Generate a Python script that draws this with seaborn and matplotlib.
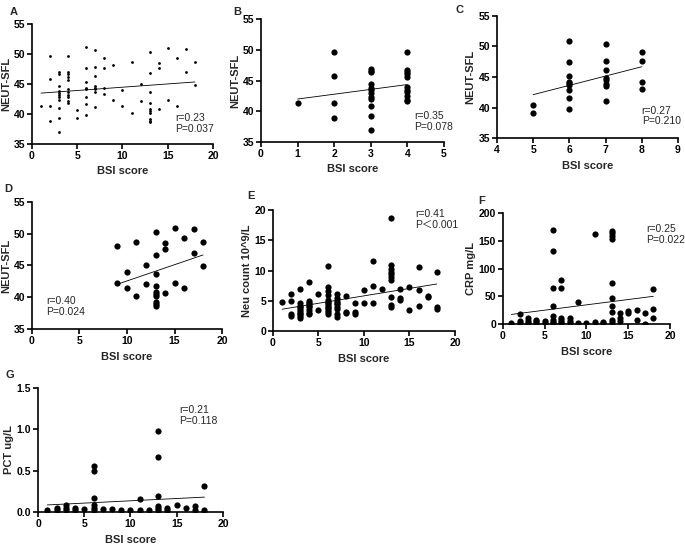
import numpy as np
import matplotlib
matplotlib.use('Agg')
import matplotlib.pyplot as plt
import seaborn as sns

sns.set_style('ticks')
plt.rcParams['font.family'] = ['Liberation Sans', 'DejaVu Sans']

# ---- data ----
# A: all patients, NEUT-SFL vs BSI score
a_x = [1] + [2]*4 + [3]*11 + [4]*11 + [5]*2 + [6]*8 + [7]*8 + [8]*4 + [9]*2 + [10]*2 \
      + [11]*2 + [12]*2 + [13]*10 + [14]*3 + [15]*2 + [16]*2 + [17]*2 + [18]*2
a_y = [41.3,
       49.7, 45.8, 41.3, 38.9,
       47.0, 46.7, 44.6, 43.9, 43.5, 43.2, 42.9, 42.3, 41.0, 39.4, 37.0,
       49.6, 47.0, 46.6, 46.2, 45.7, 44.1, 43.6, 43.2, 42.9, 42.1, 41.8,
       40.6, 39.3,
       51.1, 47.6, 45.4, 44.3, 44.1, 42.9, 41.7, 39.8,
       50.6, 47.8, 46.4, 44.7, 44.4, 44.1, 43.7, 41.1,
       49.4, 47.7, 44.3, 43.3,
       48.1, 42.3,
       44.0, 41.4,
       48.7, 40.2,
       45.0, 42.1,
       50.3, 46.8, 43.7, 41.8, 40.8, 40.5, 40.2, 39.2, 38.9, 38.7,
       48.5, 47.6, 40.8,
       51.0, 42.3,
       49.4, 41.4,
       50.8, 47.0,
       48.7, 44.9]

# B: BSI 1-4
b_x = [1] + [2]*4 + [3]*12 + [4]*11
b_y = [41.4,
       49.6, 45.7, 41.3, 38.9,
       46.8, 46.5, 46.4, 44.5, 43.8, 43.4, 42.9, 42.3, 42.0, 40.8, 39.2, 37.0,
       49.6, 46.7, 46.4, 46.0, 45.6, 44.0, 43.4, 43.2, 42.5, 41.9, 41.7]

# C: BSI 5-8
c_x = [5]*2 + [6]*9 + [7]*8 + [8]*4
c_y = [40.4, 39.1,
       50.9, 47.4, 45.2, 44.2, 44.0, 43.7, 42.8, 41.5, 39.7,
       50.4, 47.6, 46.2, 44.9, 44.5, 43.9, 43.5, 41.0,
       49.1, 47.6, 44.2, 43.1]

# D: BSI >= 9
d_x = [9]*2 + [10]*2 + [11]*2 + [12]*2 + [13]*10 + [14]*3 + [15]*2 + [16]*2 + [17]*2 + [18]*2
d_y = [48.0, 42.3,
       44.0, 41.4,
       48.7, 40.2,
       45.0, 42.1,
       50.3, 46.7, 43.7, 41.8, 40.8, 40.5, 40.2, 39.2, 38.9, 38.6,
       48.5, 47.6, 40.7,
       50.9, 42.3,
       49.4, 41.4,
       50.8, 47.0,
       48.7, 44.9]

# E: neutrophil count
e_x = [1] + [2]*4 + [3]*10 + [4]*9 + [5]*2 + [6]*13 + [7]*9 + [8]*3 + [9]*3 + [10]*2 \
      + [11]*3 + [12] + [13]*10 + [14]*3 + [15]*2 + [16]*3 + [17]*2 + [18]*3
e_y = [4.8,
       6.1, 5.0, 2.8, 2.5,
       7.0, 4.7, 4.1, 3.9, 3.6, 3.3, 3.0, 2.75, 2.5, 2.2,
       8.1, 5.0, 4.7, 4.4, 4.1, 3.9, 3.5, 3.0, 2.75,
       6.2, 3.5,
       10.8, 7.3, 6.6, 5.95, 5.2, 4.85, 4.6, 4.3, 4.0, 3.75, 3.5, 3.2, 2.8,
       6.05, 5.5, 5.0, 4.7, 4.4, 4.0, 3.6, 2.75, 2.4,
       5.8, 3.2, 2.9,
       4.6, 3.2, 2.8,
       6.7, 4.6,
       11.6, 7.4, 4.7,
       6.9,
       18.7, 10.85, 10.2, 9.8, 9.4, 9.0, 8.5, 5.6, 4.3, 4.0,
       7.0, 5.4, 5.1,
       7.3, 3.4,
       10.6, 6.7, 4.1,
       5.8, 5.6,
       9.8, 3.9, 3.6]

# F: CRP
f_x = [1] + [2]*3 + [3]*3 + [4]*3 + [5]*2 + [6]*8 + [7]*6 + [8]*3 + [9]*2 + [10] \
      + [11]*2 + [12]*2 + [13]*10 + [14]*3 + [15]*2 + [16]*2 + [17]*2 + [18]*3
f_y = [2,
       18, 5, 1,
       10, 5, 1,
       8, 5, 1,
       5, 1,
       170, 132, 65, 33, 14, 7, 3, 1,
       79, 64, 11, 7, 3, 1,
       10, 5, 1,
       40, 1,
       1,
       163, 4,
       3, 1,
       168, 164, 159, 154, 74, 46, 33, 21, 7, 3,
       19, 11, 6,
       23, 20,
       26, 7,
       19, 0,
       63, 27, 11]

# G: PCT
g_x = [1] + [2]*2 + [3]*3 + [4]*2 + [5] + [6]*6 + [7] + [8] + [9] + [10] \
      + [11]*2 + [12] + [13]*6 + [14]*2 + [15] + [16] + [17]*2 + [18]*2
g_y = [0.02,
       0.05, 0.03,
       0.08, 0.05, 0.03,
       0.05, 0.03,
       0.04,
       0.56, 0.50, 0.17, 0.08, 0.05, 0.03,
       0.04,
       0.04,
       0.02,
       0.03,
       0.16, 0.03,
       0.03,
       0.98, 0.67, 0.19, 0.07, 0.05, 0.03,
       0.05, 0.03,
       0.08,
       0.05,
       0.07, 0.03,
       0.32, 0.02]

fig = plt.figure(figsize=(6.85, 5.44), dpi=100)

panels = [
    # letter, x, y, rect, xlim/xticks, ylim/yticks, ylabel, stats, text pos, dot size
    ('A', a_x, a_y, [0.0467, 0.7353, 0.2642, 0.2206], (0, 20, 5), (35, 55, 5),
     'NEUT-SFL', 'r=0.23\nP=0.037', (0.79, 0.26), 4),
    ('B', b_x, b_y, [0.381, 0.739, 0.267, 0.226], (0, 5, 1), (35, 55, 5),
     'NEUT-SFL', 'r=0.35\nP=0.078', (0.84, 0.25), 20),
    ('C', c_x, c_y, [0.7255, 0.7463, 0.2642, 0.2243], (4, 9, 1), (35, 55, 5),
     'NEUT-SFL', 'r=0.27\nP=0.210', (0.80, 0.265), 20),
    ('D', d_x, d_y, [0.0467, 0.3952, 0.2774, 0.2335], (0, 20, 5), (35, 55, 5),
     'NEUT-SFL', 'r=0.40\nP=0.024', (0.076, 0.26), 20),
    ('E', e_x, e_y, [0.3985, 0.3915, 0.2657, 0.2224], (0, 20, 5), (0, 20, 5),
     'Neu count 10^9/L', 'r=0.41\nP＜0.001', (0.78, 1.01), 20),
    ('F', f_x, f_y, [0.7343, 0.4044, 0.2438, 0.2040], (0, 20, 5), (0, 200, 50),
     'CRP mg/L', 'r=0.25\nP=0.022', (0.86, 0.90), 20),
    ('G', g_x, g_y, [0.0555, 0.0588, 0.270, 0.228], (0, 20, 5), (0, 1.5, 0.5),
     'PCT ug/L', 'r=0.21\nP=0.118', (0.765, 0.86), 20),
]

for letter, xs, ys, rect, xr, yr, ylab, stats, tpos, dot in panels:
    ax = fig.add_axes(rect)
    sns.regplot(x=np.array(xs, dtype=float), y=np.array(ys, dtype=float), ax=ax,
                ci=None, color='black',
                scatter_kws=dict(s=dot, linewidths=0, alpha=1),
                line_kws=dict(lw=0.6, color='black'))
    ax.set_xlim(xr[0], xr[1])
    ax.set_ylim(yr[0], yr[1])
    ax.set_xticks(np.arange(xr[0], xr[1] + xr[2] / 2, xr[2]))
    yt = np.arange(yr[0], yr[1] + yr[2] / 2, yr[2])
    ax.set_yticks(yt)
    if letter == 'G':
        ax.set_yticklabels(['%.1f' % v for v in yt])
    sns.despine(ax=ax)
    for s in ['left', 'bottom']:
        ax.spines[s].set_linewidth(1.2)
        ax.spines[s].set_color('black')
    ax.tick_params(axis='both', direction='out', length=3.5, width=1.2,
                   labelsize=7.5, pad=1.5, colors='black')
    for lab in ax.get_xticklabels() + ax.get_yticklabels():
        lab.set_fontweight('bold')
    ax.set_ylabel(ylab, fontsize=8, fontweight='bold', labelpad=2)
    ax.set_xlabel('BSI score', fontsize=8, fontweight='bold', labelpad=4)
    ax.text(tpos[0], tpos[1], stats, transform=ax.transAxes, ha='left', va='top',
            fontsize=7.5, linespacing=1.1,
            family=['Liberation Sans', 'Noto Sans CJK SC', 'DejaVu Sans'])

# panel letters
for letter, px, py in [('A', 10, 12), ('B', 233, 12), ('C', 456, 10), ('D', 4, 189),
                       ('E', 247, 196), ('F', 478, 201), ('G', 5, 375)]:
    fig.text(px / 685, 1 - py / 544, letter, fontsize=8, fontweight='bold',
             ha='left', va='center')

fig.savefig('out.png', dpi=100)
